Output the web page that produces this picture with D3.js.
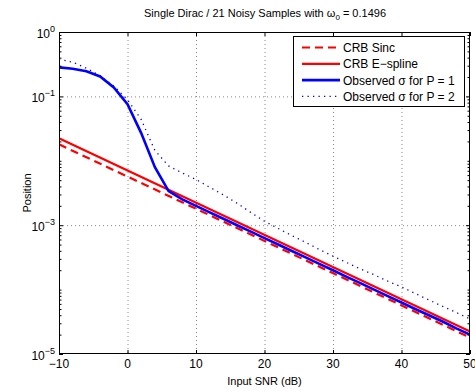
<!DOCTYPE html>
<html>
<head>
<meta charset="utf-8">
<script src="https://cdn.jsdelivr.net/npm/d3@7"></script>
<style>
  body { margin: 0; background: #fff; }
  text { font-family: "Liberation Sans", Arial, sans-serif; fill: #000; }
</style>
</head>
<body>
<svg id="chart" width="475" height="391"></svg>
<script>
// SNR grid (dB) of the simulated curves
const snrObs = [-10, -8, -6, -4, -2, 0, 2, 4, 6, 8, 10, 12, 14, 16, 18, 20, 22, 24, 26, 28, 30,
                32, 34, 36, 38, 40, 42, 44, 46, 48, 50];
// observed std of position, P = 1
const obsP1 = [0.282, 0.269, 0.245, 0.204, 0.138, 0.0759, 0.0269, 0.00794, 0.00339, 0.00251,
               0.00200, 0.00158, 0.00126, 0.00100, 7.94e-4, 6.31e-4, 5.01e-4, 3.98e-4, 3.16e-4,
               2.51e-4, 2.00e-4, 1.58e-4, 1.26e-4, 1.00e-4, 7.9e-5, 6.3e-5, 5.0e-5, 4.0e-5,
               3.2e-5, 2.5e-5, 2.0e-5];
// observed std of position, P = 2
const obsP2 = [0.380, 0.339, 0.275, 0.209, 0.145, 0.0891, 0.0437, 0.0145, 0.00832, 0.00646,
               0.00513, 0.00389, 0.00295, 0.00219, 0.00158, 0.00115, 8.9e-4, 6.9e-4, 5.4e-4,
               4.2e-4, 3.3e-4, 2.63e-4, 2.09e-4, 1.70e-4, 1.35e-4, 1.10e-4, 8.7e-5, 6.9e-5,
               5.5e-5, 4.4e-5, 3.5e-5];
// Cramer-Rao bounds (straight lines on log scale)
const snrCrb = [-10, 50];
const crbSinc = [0.0180, 1.80e-5];
const crbEspline = [0.0224, 2.24e-5];

const xTicks = [-10, 0, 10, 20, 30, 40, 50];
const yTicks = [1e-5, 1e-3, 1e-1, 1];
const legendLabels = ["CRB Sinc", "CRB E\u2212spline", "Observed \u03c3 for P = 1", "Observed \u03c3 for P = 2"];

const padL = 59, padR = 470, padT = 32, padB = 354;
const svg = d3.select("#chart");

const xs = d3.scaleLinear().domain([-10, 50]).range([padL, padR]);
const ys = d3.scaleLog().domain([1e-5, 1]).range([padB, padT]);

// grid
const grid = svg.append("g").attr("stroke", "#888").attr("stroke-width", 1).attr("stroke-dasharray", "1,3");
grid.selectAll("line.gx").data(xTicks.slice(1, -1)).enter().append("line")
    .attr("x1", d => xs(d) + 0.5).attr("x2", d => xs(d) + 0.5)
    .attr("y1", padT).attr("y2", padB);
grid.selectAll("line.gy").data([1e-3, 1e-1]).enter().append("line")
    .attr("x1", padL).attr("x2", padR)
    .attr("y1", d => ys(d) + 0.5).attr("y2", d => ys(d) + 0.5);

// curves
svg.append("clipPath").attr("id", "clip").append("rect")
    .attr("x", padL).attr("y", padT).attr("width", padR - padL).attr("height", padB - padT);
const plot = svg.append("g").attr("clip-path", "url(#clip)");
const line = d3.line().x(d => xs(d[0])).y(d => ys(d[1]));

const series = [
    { x: snrCrb, y: crbSinc, color: "#ff0000", width: 2.2, dash: "8,5" },
    { x: snrCrb, y: crbEspline, color: "#ff0000", width: 2.2, dash: null },
    { x: snrObs, y: obsP1, color: "#0000ff", width: 2.6, dash: null },
    { x: snrObs, y: obsP2, color: "#0000ff", width: 1.3, dash: "1.3,4.2" }
];
series.forEach(s => {
    plot.append("path").attr("d", line(d3.zip(s.x, s.y)))
        .attr("fill", "none").attr("stroke", s.color).attr("stroke-width", s.width)
        .attr("stroke-dasharray", s.dash);
});

// box and ticks
const axes = svg.append("g").attr("stroke", "#000").attr("stroke-width", 1);
axes.append("rect").attr("x", padL + 0.5).attr("y", padT + 0.5)
    .attr("width", padR - padL - 1).attr("height", padB - padT - 1).attr("fill", "none");
xTicks.forEach(t => {
    const x = xs(t) + 0.5;
    axes.append("line").attr("x1", x).attr("x2", x).attr("y1", padB).attr("y2", padB - 4);
    axes.append("line").attr("x1", x).attr("x2", x).attr("y1", padT).attr("y2", padT + 4);
});
yTicks.forEach(t => {
    const y = ys(t) + 0.5;
    axes.append("line").attr("x1", padL).attr("x2", padL + 4).attr("y1", y).attr("y2", y);
    axes.append("line").attr("x1", padR).attr("x2", padR - 4).attr("y1", y).attr("y2", y);
});
ys.ticks().filter(t => !yTicks.includes(t)).forEach(t => {
    const y = ys(t) + 0.5;
    axes.append("line").attr("x1", padL).attr("x2", padL + 2.5).attr("y1", y).attr("y2", y);
    axes.append("line").attr("x1", padR).attr("x2", padR - 2.5).attr("y1", y).attr("y2", y);
});

// tick labels
svg.append("g").selectAll("text").data(xTicks).enter().append("text")
    .attr("x", d => xs(d)).attr("y", padB + 14).attr("text-anchor", "middle")
    .attr("font-size", 12).text(d => d < 0 ? "\u2212" + (-d) : d);
const yl = svg.append("g").selectAll("text").data(yTicks).enter().append("text")
    .attr("x", padL - 4).attr("y", d => ys(d) + 6).attr("text-anchor", "end").attr("font-size", 12);
yl.append("tspan").text("10");
yl.append("tspan").attr("dy", -6).attr("font-size", 9)
    .text(d => { const e = Math.round(Math.log10(d)); return e < 0 ? "\u2212" + (-e) : e; });

// axis titles
svg.append("text").attr("x", (padL + padR) / 2).attr("y", 385).attr("text-anchor", "middle")
    .attr("font-size", 11).text("Input SNR (dB)");
svg.append("text").attr("transform", `translate(31, ${(padT + padB) / 2}) rotate(-90)`)
    .attr("text-anchor", "middle").attr("font-size", 11).text("Position");
const title = svg.append("text").attr("x", 265).attr("y", 17).attr("text-anchor", "middle").attr("font-size", 11);
title.append("tspan").text("Single Dirac / 21 Noisy Samples with \u03c9");
title.append("tspan").attr("dy", 3).attr("font-size", 8).text("0");
title.append("tspan").attr("dy", -3).text(" = 0.1496");

// legend
const lg = svg.append("g");
lg.append("rect").attr("x", 293.5).attr("y", 36.5).attr("width", 171).attr("height", 70)
    .attr("fill", "#fff").attr("stroke", "#000").attr("stroke-width", 1);
series.forEach((s, i) => {
    const y = 47.5 + i * 16.3;
    lg.append("line").attr("x1", 302).attr("x2", 340).attr("y1", y).attr("y2", y)
        .attr("stroke", s.color).attr("stroke-width", s.width).attr("stroke-dasharray", s.dash);
    lg.append("text").attr("x", 343).attr("y", y + 4.5).attr("font-size", 12).text(legendLabels[i]);
});
</script>
</body>
</html>
